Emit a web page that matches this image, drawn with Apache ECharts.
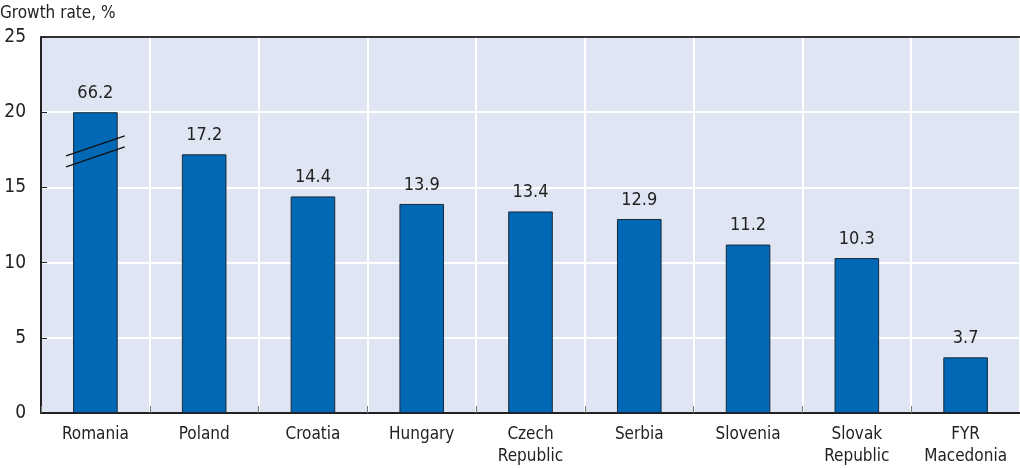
<!DOCTYPE html>
<html>
<head>
<meta charset="utf-8">
<script src="https://cdn.jsdelivr.net/npm/echarts@6/dist/echarts.min.js"></script>
<style>
  html, body { margin: 0; padding: 0; background: #fff; }
  #chart { width: 1020px; height: 468px; }
</style>
</head>
<body>
<div id="chart"></div>
<script>
// data
var countries = ['Romania', 'Poland', 'Croatia', 'Hungary', 'Czech\nRepublic', 'Serbia', 'Slovenia', 'Slovak\nRepublic', 'FYR\nMacedonia'];
var growthRate = [66.2, 17.2, 14.4, 13.9, 13.4, 12.9, 11.2, 10.3, 3.7];
var yTicks = [0, 5, 10, 15, 20, 25];
var axisCap = 20;      // bars above this are cut (broken axis)
var breakAt = 17.4;    // where the break mark sits

var font = "'Liberation Sans Narrow', 'DejaVu Sans Condensed', 'Arial Narrow', sans-serif";

// bar heights are capped, labels keep real value
var barData = growthRate.map(function (v) {
    return { value: Math.min(v, axisCap), realValue: v };
});
var breakData = [];
for (var i = 0; i < growthRate.length; i++) {
    if (growthRate[i] > axisCap) breakData.push([i, breakAt]);
}

var chart = echarts.init(document.getElementById('chart'));

var option = {
    animation: false,
    textStyle: { fontFamily: font },
    title: {
        text: 'Growth rate, %',
        left: 0, top: 5, padding: 0,
        textStyle: { fontFamily: font, fontSize: 17, fontWeight: 'normal', color: '#222' }
    },
    grid: {
        left: 41, right: 0, top: 37, bottom: 54,
        show: true, backgroundColor: '#dfe5f2', borderWidth: 0
    },
    xAxis: [{
        type: 'category',
        data: countries,
        axisLine: { lineStyle: { color: '#222', width: 2 } },
        axisTick: { show: true, inside: true, length: 7, lineStyle: { color: '#777' } },
        axisLabel: { fontFamily: font, fontSize: 17, color: '#222', margin: 11, lineHeight: 22, interval: 0 },
        splitLine: { show: true, lineStyle: { color: '#fff', width: 2 } }
    }, {
        type: 'category',
        data: countries,
        position: 'top',
        axisLine: { lineStyle: { color: '#333', width: 2 } },
        axisTick: { show: false },
        axisLabel: { show: false }
    }],
    yAxis: {
        type: 'value',
        min: yTicks[0], max: yTicks[yTicks.length - 1], interval: 5,
        axisLine: { show: true, lineStyle: { color: '#222', width: 2 } },
        axisTick: { show: true, inside: true, length: 6, lineStyle: { color: '#222' } },
        axisLabel: { fontFamily: font, fontSize: 19, color: '#222', margin: 15 },
        splitLine: { show: true, lineStyle: { color: '#fff', width: 2 } }
    },
    series: [{
        type: 'bar',
        data: barData,
        barWidth: '41%',
        itemStyle: { color: '#0068b5', borderColor: '#1a2a3a', borderWidth: 1 },
        label: {
            show: true, position: 'top', distance: 10,
            fontFamily: font, fontSize: 18, color: '#222',
            formatter: function (p) { return p.data.realValue.toFixed(1); }
        }
    }, {
        type: 'custom',
        data: breakData,
        z: 10,
        renderItem: function (params, api) {
            var c = api.coord([api.value(0), api.value(1)]);
            var w = api.size([1, 0])[0] * 0.27;
            var rise = 10, gap = 5.5;
            var mk = function (dy) {
                return {
                    type: 'line',
                    shape: { x1: c[0] - w, y1: c[1] + rise + dy, x2: c[0] + w, y2: c[1] - rise + dy },
                    style: { stroke: '#111', lineWidth: 1.3 }
                };
            };
            return { type: 'group', children: [mk(-gap), mk(gap)] };
        }
    }]
};

chart.setOption(option);
</script>
</body>
</html>
